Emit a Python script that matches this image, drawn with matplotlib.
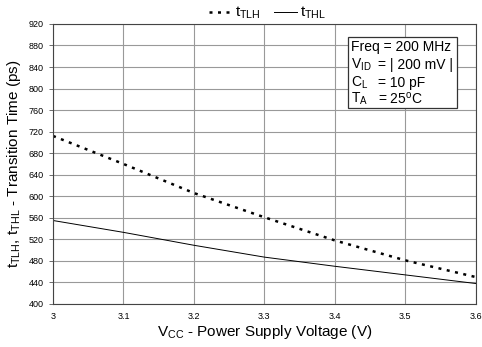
import numpy as np
import matplotlib.pyplot as plt
from matplotlib.patches import Rectangle

plt.rcParams['font.family'] = ['Liberation Sans', 'DejaVu Sans']
plt.rcParams['mathtext.fontset'] = 'custom'
plt.rcParams['mathtext.rm'] = 'Liberation Sans'
plt.rcParams['mathtext.it'] = 'Liberation Sans'

# data
vcc = [3.0, 3.1, 3.2, 3.3, 3.4, 3.5, 3.6]
t_tlh = [712, 660, 606, 561, 518, 481, 450]
t_thl = [555, 533, 509, 487, 470, 454, 438]

xticks = [3.0, 3.1, 3.2, 3.3, 3.4, 3.5, 3.6]
xticklabels = ['3', '3.1', '3.2', '3.3', '3.4', '3.5', '3.6']
yticks = np.arange(400, 921, 40)

fig = plt.figure(figsize=(4.82, 3.47), dpi=100)
ax = fig.add_axes([0.110, 0.124, 0.877, 0.807])

l1, = ax.plot(vcc, t_tlh, color='black', linestyle=(0, (1.2, 2.2)), linewidth=1.8,
              label=r'$\mathrm{t_{TLH}}$')
l2, = ax.plot(vcc, t_thl, color='black', linewidth=0.7, label=r'$\mathrm{t_{THL}}$')

ax.set_xlim(3.0, 3.6)
ax.set_ylim(400, 920)
ax.set_xticks(xticks)
ax.set_xticklabels(xticklabels)
ax.set_yticks(yticks)
ax.tick_params(axis='both', labelsize=6.5, length=3, width=0.6, color='#555555')
ax.tick_params(axis='x', length=0, pad=6)
ax.grid(True, color='#999999', linewidth=0.8)
ax.set_axisbelow(True)
for s in ax.spines.values():
    s.set_color('#444444')
    s.set_linewidth(0.8)

ax.set_xlabel(r'$\mathrm{V_{CC}}$ - Power Supply Voltage (V)', fontsize=11, labelpad=1)
ax.set_ylabel(r'$\mathrm{t_{TLH}}$, $\mathrm{t_{THL}}$ - Transition Time (ps)', fontsize=11,
              labelpad=4)

fig.legend(handles=[l1, l2], loc='center', bbox_to_anchor=(0.555, 0.962), ncol=2,
           frameon=False, fontsize=11, handlelength=1.5, columnspacing=0.9,
           handletextpad=0.2)

# condition box
ax.add_patch(Rectangle((0.697, 0.70), 0.258, 0.254, transform=ax.transAxes,
                       facecolor='white', edgecolor='#333333', linewidth=0.9, zorder=5))
names = ['Freq', r'$\mathrm{V_{ID}}$', r'$\mathrm{C_L}$', r'$\mathrm{T_A}$']
vals = ['= 200 MHz', '= | 200 mV |', '= 10 pF', '= 25$\\mathrm{^o}$C']
ys = [0.918, 0.855, 0.79, 0.733]
for n, v, yy in zip(names, vals, ys):
    if n == 'Freq':
        ax.text(0.706, yy, n + ' ' + v, transform=ax.transAxes, fontsize=10,
                va='center', zorder=6)
    else:
        ax.text(0.706, yy, n, transform=ax.transAxes, fontsize=10, va='center', zorder=6)
        ax.text(0.768, yy, v, transform=ax.transAxes, fontsize=10, va='center', zorder=6)

fig.savefig('out.png', dpi=100)
